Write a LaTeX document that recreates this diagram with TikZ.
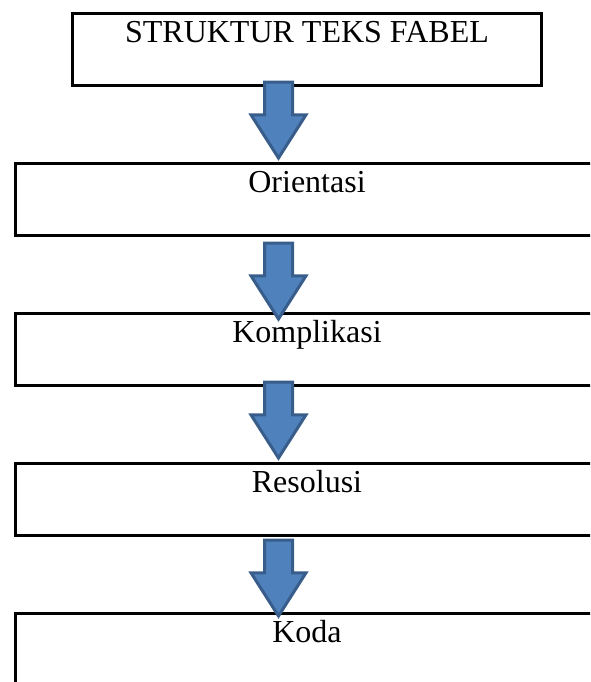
\documentclass[tikz,border=0pt]{standalone}
\usepackage{fontspec}
\setmainfont{Liberation Serif}
\usetikzlibrary{positioning,shapes.arrows}
\definecolor{arrowfill}{HTML}{4F81BD}
\definecolor{arrowline}{HTML}{385D8A}
\tikzset{
  stagebox/.style={
    draw,
    rectangle,
    line width=2.25pt,
    inner sep=0pt,
    text height=21.375pt,
    text depth=32.625pt,
    font=\fontsize{24}{28}\selectfont
  },
  titlebox/.style={stagebox, minimum width=351.75pt},
  partbox/.style={stagebox, minimum width=437.25pt},
  downarrow/.style={
    single arrow,
    draw=arrowline,
    fill=arrowfill,
    line width=2.25pt,
    shape border rotate=270,
    inner sep=9.375pt,
    minimum width=39pt,
    minimum height=57pt,
    single arrow head extend=10.125pt,
    single arrow tip angle=65,
    anchor=tail
  }
}

\begin{document}
\begin{tikzpicture}[x=0.75pt, y=-0.75pt, node distance=56.25pt]
\path[use as bounding box, clip] (0,0) rectangle (590,682);

\node[titlebox] (title) at (307,49.5) {STRUKTUR TEKS FABEL};
\node[partbox, below=of title] (orientasi) {Orientasi};
\node[partbox, below=of orientasi] (komplikasi) {Komplikasi};
\node[partbox, below=of komplikasi] (resolusi) {Resolusi};
\node[partbox, below=of resolusi] (koda) {Koda};

% block arrows between the stages
\node[downarrow] (a1) at (278.5,80.5) {};
\node[downarrow] (a2) at (278.5,241.5) {};
\node[downarrow] (a3) at (278.5,380.5) {};
\node[downarrow] (a4) at (278.5,538.5) {};
\end{tikzpicture}
\end{document}
